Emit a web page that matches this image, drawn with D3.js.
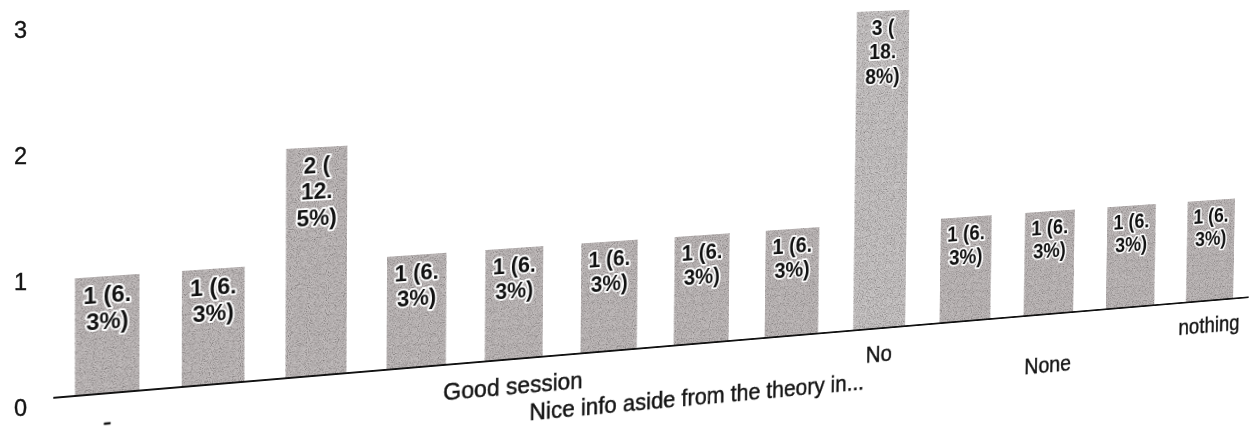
<!DOCTYPE html>
<html>
<head>
<meta charset="utf-8">
<script src="https://cdn.jsdelivr.net/npm/d3@7"></script>
<style>
  html, body { margin: 0; padding: 0; background: #fff; width: 1260px; height: 436px; overflow: hidden; }
  #sheet { position: absolute; left: 0; top: 0; width: 1500px; height: 520px; transform-origin: 0 0; }
  #axis { position: absolute; left: 0; top: 0; }
  text { font-family: "Liberation Sans", Arial, sans-serif; }
</style>
</head>
<body>
<div id="sheet"></div>
<svg id="axis" width="1260" height="436"></svg>
<script>
// Responses per answer (only some answer labels fit under the axis)
const categories = ["-", "", "", "", "Good session", "", "Nice info aside from the theory in...", "", "No", "", "None", "", "nothing"];
const counts = [1, 1, 2, 1, 1, 1, 1, 1, 3, 1, 1, 1, 1];
// 0 = label hidden, 1 = first row, 2 = second row
const labelRows = [1, 0, 0, 0, 1, 0, 2, 0, 1, 0, 2, 0, 1];
const yTicks = [0, 1, 2, 3];

const total = d3.sum(counts);
const idx = d3.range(counts.length);

// Sheet is photographed at an angle: plane-to-plane projection
// X = (a x + b y + c) / w, Y = (d x + e y + f) / w, w = g x + h y + 1
const view = { a: 1.03324, b: 0.001179, c: -3.279,
               d: -0.03339, e: 1.00122, f: 4.587,
               g: 1.3316e-4, h: 1.5704e-5 };
d3.select("#sheet").style("transform",
  `matrix3d(${view.a},${view.d},0,${view.g},${view.b},${view.e},0,${view.h},0,0,1,0,${view.c},${view.f},0,1)`);

const W = 1500, H = 520;
const svg = d3.select("#sheet").append("svg").attr("width", W).attr("height", H);

const x = d3.scaleBand().domain(idx).range([55, 1452.5]).paddingInner(0.4).paddingOuter(0.2);
const y = d3.scaleLinear().domain([0, 3]).range([400, 40]);

// printed halftone grain on the bars
const defs = svg.append("defs");
const grain = defs.append("filter").attr("id", "grain")
  .attr("filterUnits", "userSpaceOnUse")
  .attr("x", 0).attr("y", 0).attr("width", W).attr("height", H)
  .attr("color-interpolation-filters", "sRGB");
grain.append("feTurbulence").attr("type", "fractalNoise").attr("baseFrequency", 0.9)
  .attr("numOctaves", 2).attr("seed", 7).attr("result", "noise");
grain.append("feColorMatrix").attr("in", "noise").attr("type", "matrix")
  .attr("values", "0 0 0 0 0.48  0 0 0 0 0.46  0 0 0 0 0.46  2.6 0 0 0 -1.15")
  .attr("result", "speck");
grain.append("feComposite").attr("in", "speck").attr("in2", "SourceGraphic")
  .attr("operator", "in").attr("result", "speckIn");
const merge = grain.append("feMerge");
merge.append("feMergeNode").attr("in", "SourceGraphic");
merge.append("feMergeNode").attr("in", "speckIn");

// bars
svg.append("g").attr("filter", "url(#grain)")
  .selectAll("rect").data(idx).join("rect")
  .attr("x", i => x(i))
  .attr("y", i => y(counts[i]))
  .attr("width", x.bandwidth())
  .attr("height", i => y(0) - y(counts[i]))
  .attr("fill", i => counts[i] === 3 ? "#cac7c7" : "#c0bbbb");

// baseline
svg.append("line")
  .attr("x1", x.range()[0]).attr("x2", x.range()[1])
  .attr("y1", y(0)).attr("y2", y(0))
  .attr("stroke", "#111").attr("stroke-width", 2.2);

// value labels, wrapped to the bar width
function wrap(str, maxChars) {
  const parts = str.match(/[^(.]*[(.]|[^(.]+$/g);
  const lines = [];
  let cur = "";
  parts.forEach(p => {
    if (cur && (cur + p).length > maxChars) { lines.push(cur); cur = p; }
    else cur += p;
  });
  if (cur) lines.push(cur);
  return lines;
}
const valueLabels = svg.append("g")
  .selectAll("text").data(idx).join("text")
  .attr("text-anchor", "middle")
  .attr("font-size", 24)
  .attr("font-weight", "bold")
  .attr("fill", "#111")
  .attr("stroke", "#fbfbfb").attr("stroke-width", 4)
  .attr("stroke-linejoin", "round").attr("paint-order", "stroke");
valueLabels.each(function (i) {
  const pct = (counts[i] / total * 100).toFixed(1);
  const lines = wrap(`${counts[i]} (${pct}%)`, 5);
  const t = d3.select(this);
  lines.forEach((ln, k) => {
    t.append("tspan")
      .attr("x", x(i) + x.bandwidth() / 2)
      .attr("y", y(counts[i]) + 27 + k * 27.5)
      .text(ln);
  });
});

// answer labels under the axis
const rowY = { 1: 438, 2: 468 };
svg.append("g")
  .selectAll("text").data(idx.filter(i => labelRows[i] > 0)).join("text")
  .attr("x", i => x(i) + x.bandwidth() / 2)
  .attr("y", i => rowY[labelRows[i]])
  .attr("text-anchor", "middle")
  .attr("font-size", 25.5)
  .attr("fill", "#151515")
  .attr("stroke", "#151515").attr("stroke-width", 0.5)
  .text(i => categories[i]);

// count axis on the left
const yAxisScale = d3.scaleLinear().domain([0, 3]).range([408, 30]);
const ax = d3.select("#axis").append("g")
  .attr("transform", "translate(27,0)")
  .call(d3.axisLeft(yAxisScale).tickValues(yTicks).tickFormat(d3.format("d")).tickSize(0).tickPadding(0));
ax.select(".domain").remove();
ax.selectAll("text")
  .attr("font-family", "Liberation Sans, Arial, sans-serif")
  .attr("font-size", 23.5)
  .attr("fill", "#151515")
  .attr("stroke", "#151515").attr("stroke-width", 0.4);
</script>
</body>
</html>
